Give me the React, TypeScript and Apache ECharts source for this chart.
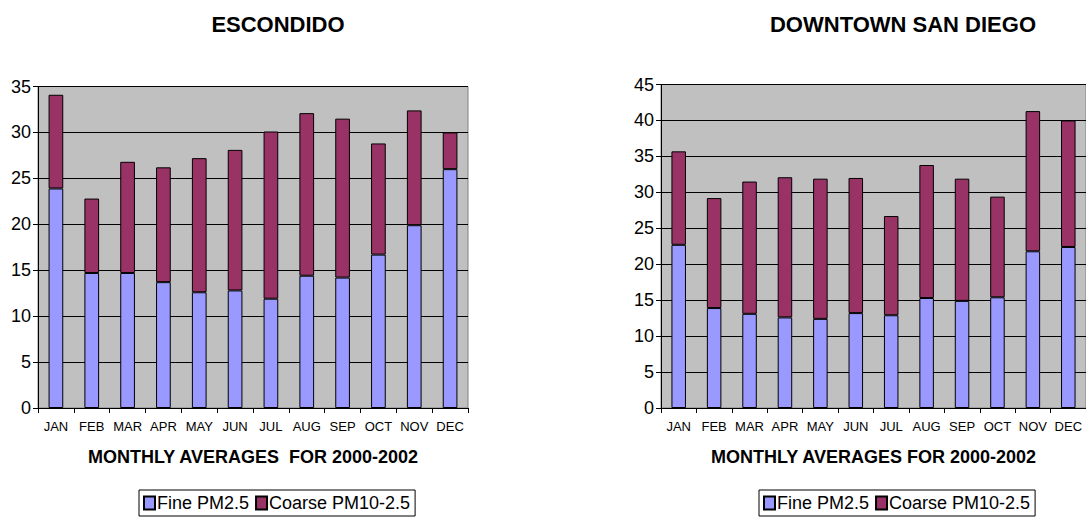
import React, { useEffect, useRef } from "react";
import * as echarts from "echarts";

const months = ["JAN", "FEB", "MAR", "APR", "MAY", "JUN", "JUL", "AUG", "SEP", "OCT", "NOV", "DEC"];
const escondidoFine = [23.9, 14.7, 14.7, 13.7, 12.6, 12.8, 11.9, 14.4, 14.2, 16.7, 19.9, 26.0];
const escondidoCoarse = [10.2, 8.1, 12.1, 12.5, 14.6, 15.3, 18.2, 17.7, 17.3, 12.1, 12.5, 4.0];
const sanDiegoFine = [22.7, 13.9, 13.1, 12.6, 12.4, 13.2, 12.9, 15.3, 14.9, 15.4, 21.8, 22.4];
const sanDiegoCoarse = [13.0, 15.3, 18.4, 19.5, 19.5, 18.8, 13.8, 18.5, 17.0, 14.0, 19.5, 17.6];
const titles = ["ESCONDIDO", "DOWNTOWN SAN DIEGO"];
const axisNames = ["MONTHLY AVERAGES  FOR 2000-2002", "MONTHLY AVERAGES FOR 2000-2002"];
const seriesNames = ["Fine PM2.5", "Coarse PM10-2.5"];

const FONT = "'Liberation Sans Narrow', 'Arial Narrow', 'Liberation Sans', Arial, sans-serif";
const FINE_COLOR = "#9999ff";
const COARSE_COLOR = "#993366";

export default function App() {
  const ref = useRef<HTMLDivElement>(null);
  useEffect(() => {
    if (!ref.current) return;
    const chart = echarts.init(ref.current, undefined, { renderer: "svg" });
    const grids = [
      { left: 38, top: 86.5, width: 430, height: 321.5 },
      { left: 661, top: 84.5, width: 430, height: 323.5 },
    ];
    const maxes = [35, 45];
    const xAxis = [0, 1].map((i) => ({
      type: "category" as const,
      gridIndex: i,
      data: months,
      boundaryGap: true,
      axisLine: { show: true, lineStyle: { color: "#000", width: 1 } },
      axisTick: { show: true, length: 5, lineStyle: { color: "#000" } },
      axisLabel: { color: "#000", fontFamily: FONT, fontSize: 13, margin: 12, interval: 0 },
      name: axisNames[i],
      nameLocation: "middle" as const,
      nameGap: 40,
      nameTextStyle: { color: "#000", fontFamily: FONT, fontSize: 18, fontWeight: "bold" as const },
      splitLine: { show: false },
    }));
    const yAxis = [0, 1].map((i) => ({
      type: "value" as const,
      gridIndex: i,
      min: 0,
      max: maxes[i],
      interval: 5,
      axisLine: { show: true, lineStyle: { color: "#000", width: 1 } },
      axisTick: { show: true, length: 5, lineStyle: { color: "#000" } },
      axisLabel: { color: "#000", fontFamily: FONT, fontSize: 18, margin: 7 },
      splitLine: { show: true, lineStyle: { color: "#000", width: 1 } },
    }));
    const mk = (name: string, data: number[], idx: number, color: string, stack: string) => ({
      name,
      type: "bar" as const,
      xAxisIndex: idx,
      yAxisIndex: idx,
      stack,
      data,
      barWidth: "41%",
      itemStyle: { color, borderColor: "#000", borderWidth: 1 },
    });
    chart.setOption({
      animation: false,
      backgroundColor: "#fff",
      title: titles.map((t, i) => ({
        text: t,
        left: i === 0 ? 278 : 903,
        top: 13,
        padding: 0,
        textAlign: "center",
        textStyle: { color: "#000", fontFamily: FONT, fontSize: 22, fontWeight: "bold" },
      })),
      grid: grids.map((g) => ({
        ...g,
        show: true,
        backgroundColor: "#c0c0c0",
        borderColor: "#808080",
        borderWidth: 1,
      })),
      xAxis,
      yAxis,
      legend: [139, 759].map((left) => ({
        left,
        top: 490,
        data: seriesNames,
        orient: "horizontal",
        itemWidth: 11,
        itemHeight: 13,
        itemGap: 6,
        padding: [4, 5, 4, 4],
        borderColor: "#000",
        borderWidth: 1,
        backgroundColor: "#fff",
        icon: "rect",
        textStyle: { color: "#000", fontFamily: FONT, fontSize: 18, padding: [0, 0, 0, -3] },
        selectedMode: false,
      })),
      series: [
        mk(seriesNames[0], escondidoFine, 0, FINE_COLOR, "esc"),
        mk(seriesNames[1], escondidoCoarse, 0, COARSE_COLOR, "esc"),
        mk(seriesNames[0], sanDiegoFine, 1, FINE_COLOR, "sd"),
        mk(seriesNames[1], sanDiegoCoarse, 1, COARSE_COLOR, "sd"),
      ],
    });
    return () => chart.dispose();
  }, []);
  return (
    <div
      ref={ref}
      style={{ position: "absolute", left: 0, top: 0, width: 1086, height: 523, background: "#fff" }}
    />
  );
}
